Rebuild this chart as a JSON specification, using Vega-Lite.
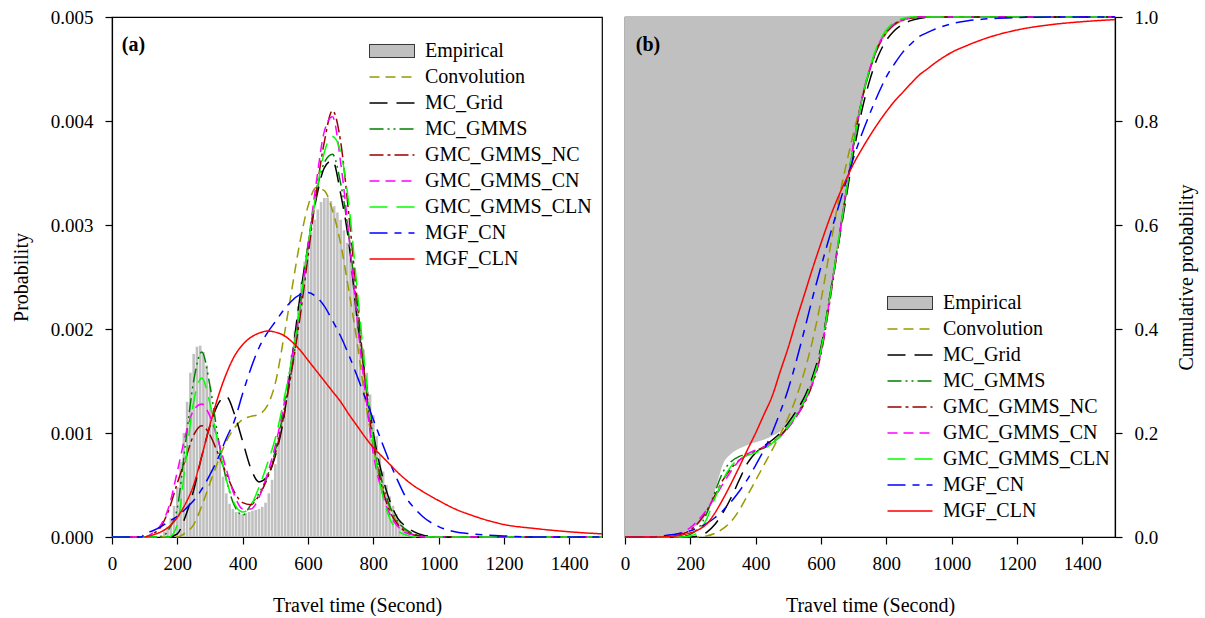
{
"$schema": "https://vega.github.io/schema/vega-lite/v6.json",
"padding": {"left": 10, "top": 7, "right": 5, "bottom": 0},
"spacing": 13,
"config": {
  "font": "Liberation Serif",
  "view": {"stroke": "#000000", "strokeWidth": 1.2},
  "axis": {"labelFont": "Liberation Serif", "titleFont": "Liberation Serif", "labelFontSize": 19, "titleFontSize": 20, "titleFontWeight": "normal", "labelColor": "#000000", "titleColor": "#000000", "domainColor": "#000000", "tickColor": "#000000", "grid": false, "tickSize": 7, "domainWidth": 1.2, "tickWidth": 1.2, "labelFlush": false},
  "legend": {"labelFont": "Liberation Serif", "labelFontSize": 20, "labelColor": "#000000", "labelLimit": 0}
},
"datasets": {
"hist": [
{"t":150,"p":0.00002},{"t":160,"p":0.00005},{"t":170,"p":0.0001},{"t":180,"p":0.00018},{"t":190,"p":0.0003},{"t":200,"p":0.00048},{"t":210,"p":0.00072},{"t":220,"p":0.001},{"t":230,"p":0.0013},{"t":240,"p":0.00158},{"t":250,"p":0.00176},{"t":260,"p":0.00183},{"t":270,"p":0.00184},{"t":280,"p":0.00178},{"t":290,"p":0.00165},{"t":300,"p":0.00145},{"t":310,"p":0.00122},{"t":320,"p":0.00098},{"t":330,"p":0.00078},{"t":340,"p":0.00058},{"t":350,"p":0.00042},{"t":360,"p":0.00032},{"t":370,"p":0.00027},{"t":380,"p":0.00024},{"t":390,"p":0.00022},{"t":400,"p":0.00022},{"t":410,"p":0.00023},{"t":420,"p":0.00024},{"t":430,"p":0.00025},{"t":440,"p":0.00026},{"t":450,"p":0.00027},{"t":460,"p":0.00029},{"t":470,"p":0.00033},{"t":480,"p":0.00042},{"t":490,"p":0.00055},{"t":500,"p":0.0007},{"t":510,"p":0.0009},{"t":520,"p":0.00112},{"t":530,"p":0.00135},{"t":540,"p":0.00155},{"t":550,"p":0.00175},{"t":560,"p":0.00198},{"t":570,"p":0.00222},{"t":580,"p":0.00245},{"t":590,"p":0.00265},{"t":600,"p":0.0028},{"t":610,"p":0.00293},{"t":620,"p":0.00305},{"t":630,"p":0.00315},{"t":640,"p":0.00322},{"t":650,"p":0.00326},{"t":660,"p":0.00326},{"t":670,"p":0.00323},{"t":680,"p":0.00318},{"t":690,"p":0.00312},{"t":700,"p":0.00305},{"t":710,"p":0.00295},{"t":720,"p":0.00283},{"t":730,"p":0.00268},{"t":740,"p":0.00248},{"t":750,"p":0.00226},{"t":760,"p":0.00202},{"t":770,"p":0.0018},{"t":780,"p":0.00158},{"t":790,"p":0.00137},{"t":800,"p":0.00117},{"t":810,"p":0.00097},{"t":820,"p":0.00079},{"t":830,"p":0.00063},{"t":840,"p":0.0005},{"t":850,"p":0.00039},{"t":860,"p":0.0003},{"t":870,"p":0.00022},{"t":880,"p":0.00016},{"t":890,"p":0.00011},{"t":900,"p":0.00008},{"t":910,"p":0.00005},{"t":920,"p":0.00003},{"t":930,"p":0.00002},{"t":940,"p":0.00001}
],
"pdf": [
{"t":0,"Convolution":0,"MC_Grid":0,"MC_GMMS":0,"GMC_GMMS_NC":0,"GMC_GMMS_CN":0,"GMC_GMMS_CLN":0,"MGF_CN":0},
{"t":90,"MGF_CN":0},
{"t":100,"GMC_GMMS_NC":0,"GMC_GMMS_CN":0,"MGF_CN":0.00003,"MGF_CLN":0},
{"t":125,"GMC_GMMS_NC":0.00003,"GMC_GMMS_CN":0.00004,"MGF_CN":0.00006,"MGF_CLN":0.00002},
{"t":150,"MC_GMMS":0,"GMC_GMMS_NC":0.0001,"GMC_GMMS_CN":0.00012,"MGF_CN":0.0001,"MGF_CLN":0.00005},
{"t":175,"MC_Grid":0,"MC_GMMS":0.00008,"GMC_GMMS_NC":0.00027,"GMC_GMMS_CN":0.0003,"GMC_GMMS_CLN":0,"MGF_CN":0.00015,"MGF_CLN":0.0001},
{"t":200,"Convolution":0,"MC_Grid":0.00003,"MC_GMMS":0.00028,"GMC_GMMS_NC":0.00052,"GMC_GMMS_CN":0.00063,"GMC_GMMS_CLN":0.00012,"MGF_CN":0.0002,"MGF_CLN":0.00019},
{"t":225,"Convolution":0.00004,"MC_Grid":0.0002,"MC_GMMS":0.0009,"GMC_GMMS_NC":0.00075,"GMC_GMMS_CN":0.00098,"GMC_GMMS_CLN":0.00072,"MGF_CN":0.00027,"MGF_CLN":0.00032},
{"t":250,"Convolution":0.00012,"MC_Grid":0.00045,"MC_GMMS":0.0015,"GMC_GMMS_NC":0.00098,"GMC_GMMS_CN":0.00122,"GMC_GMMS_CLN":0.0013,"MGF_CN":0.00035,"MGF_CLN":0.0005},
{"t":275,"Convolution":0.0003,"MC_Grid":0.00078,"MC_GMMS":0.00178,"GMC_GMMS_NC":0.00107,"GMC_GMMS_CN":0.00128,"GMC_GMMS_CLN":0.00153,"MGF_CN":0.00046,"MGF_CLN":0.00078},
{"t":300,"Convolution":0.00052,"MC_Grid":0.00107,"MC_GMMS":0.00145,"GMC_GMMS_NC":0.00098,"GMC_GMMS_CN":0.00116,"GMC_GMMS_CLN":0.00128,"MGF_CN":0.0006,"MGF_CLN":0.00108},
{"t":325,"Convolution":0.00073,"MC_Grid":0.00128,"MC_GMMS":0.00095,"GMC_GMMS_NC":0.0008,"GMC_GMMS_CN":0.00093,"GMC_GMMS_CLN":0.0009,"MGF_CN":0.00076,"MGF_CLN":0.00135},
{"t":350,"Convolution":0.00092,"MC_Grid":0.00135,"MC_GMMS":0.00055,"GMC_GMMS_NC":0.00061,"GMC_GMMS_CN":0.00065,"GMC_GMMS_CLN":0.00055,"MGF_CN":0.00095,"MGF_CLN":0.00157},
{"t":375,"Convolution":0.00105,"MC_Grid":0.00118,"MC_GMMS":0.0003,"GMC_GMMS_NC":0.00043,"GMC_GMMS_CN":0.0004,"GMC_GMMS_CLN":0.00032,"MGF_CN":0.00112,"MGF_CLN":0.00174},
{"t":400,"Convolution":0.00113,"MC_Grid":0.00092,"MC_GMMS":0.00021,"GMC_GMMS_NC":0.00033,"GMC_GMMS_CN":0.00027,"GMC_GMMS_CLN":0.00024,"MGF_CN":0.00138,"MGF_CLN":0.00185},
{"t":425,"Convolution":0.00116,"MC_Grid":0.00066,"MC_GMMS":0.00031,"GMC_GMMS_NC":0.00031,"GMC_GMMS_CN":0.00027,"GMC_GMMS_CLN":0.0003,"MGF_CN":0.00162,"MGF_CLN":0.00192},
{"t":450,"Convolution":0.00118,"MC_Grid":0.00053,"MC_GMMS":0.00042,"GMC_GMMS_NC":0.0004,"GMC_GMMS_CN":0.00038,"GMC_GMMS_CLN":0.00048,"MGF_CN":0.00182,"MGF_CLN":0.00196},
{"t":475,"Convolution":0.00126,"MC_Grid":0.00058,"MC_GMMS":0.00058,"GMC_GMMS_NC":0.00056,"GMC_GMMS_CN":0.0006,"GMC_GMMS_CLN":0.0007,"MGF_CN":0.00196,"MGF_CLN":0.00198},
{"t":500,"Convolution":0.00148,"MC_Grid":0.00078,"MC_GMMS":0.00083,"GMC_GMMS_NC":0.0008,"GMC_GMMS_CN":0.00088,"GMC_GMMS_CLN":0.00095,"MGF_CN":0.00207,"MGF_CLN":0.00197},
{"t":525,"Convolution":0.0019,"MC_Grid":0.00113,"MC_GMMS":0.0012,"GMC_GMMS_NC":0.00115,"GMC_GMMS_CN":0.00125,"GMC_GMMS_CLN":0.0013,"MGF_CN":0.00218,"MGF_CLN":0.00194},
{"t":550,"Convolution":0.00237,"MC_Grid":0.0017,"MC_GMMS":0.0016,"GMC_GMMS_NC":0.0016,"GMC_GMMS_CN":0.0017,"GMC_GMMS_CLN":0.0017,"MGF_CN":0.00227,"MGF_CLN":0.00188},
{"t":575,"Convolution":0.00283,"MC_Grid":0.0023,"MC_GMMS":0.0022,"GMC_GMMS_NC":0.0021,"GMC_GMMS_CN":0.0022,"GMC_GMMS_CLN":0.0022,"MGF_CN":0.00233,"MGF_CLN":0.0018},
{"t":600,"Convolution":0.00318,"MC_Grid":0.0028,"MC_GMMS":0.0028,"GMC_GMMS_NC":0.0027,"GMC_GMMS_CN":0.0028,"GMC_GMMS_CLN":0.0028,"MGF_CN":0.00235,"MGF_CLN":0.0017},
{"t":625,"Convolution":0.00336,"MC_Grid":0.00325,"MC_GMMS":0.0033,"GMC_GMMS_NC":0.0033,"GMC_GMMS_CN":0.0034,"GMC_GMMS_CLN":0.0033,"MGF_CN":0.00231,"MGF_CLN":0.0016},
{"t":650,"Convolution":0.00333,"MC_Grid":0.00355,"MC_GMMS":0.0036,"GMC_GMMS_NC":0.0038,"GMC_GMMS_CN":0.0039,"GMC_GMMS_CLN":0.0037,"MGF_CN":0.00222,"MGF_CLN":0.0015},
{"t":675,"Convolution":0.00314,"MC_Grid":0.00362,"MC_GMMS":0.00368,"GMC_GMMS_NC":0.0041,"GMC_GMMS_CN":0.00404,"GMC_GMMS_CLN":0.00385,"MGF_CN":0.00208,"MGF_CLN":0.0014},
{"t":700,"Convolution":0.00282,"MC_Grid":0.0033,"MC_GMMS":0.0034,"GMC_GMMS_NC":0.0038,"GMC_GMMS_CN":0.0036,"GMC_GMMS_CLN":0.0037,"MGF_CN":0.00193,"MGF_CLN":0.0013},
{"t":725,"Convolution":0.00237,"MC_Grid":0.00283,"MC_GMMS":0.0029,"GMC_GMMS_NC":0.0031,"GMC_GMMS_CN":0.0029,"GMC_GMMS_CLN":0.0032,"MGF_CN":0.00175,"MGF_CLN":0.00118},
{"t":750,"Convolution":0.00188,"MC_Grid":0.0021,"MC_GMMS":0.0022,"GMC_GMMS_NC":0.0023,"GMC_GMMS_CN":0.0021,"GMC_GMMS_CLN":0.0024,"MGF_CN":0.00155,"MGF_CLN":0.00107},
{"t":775,"Convolution":0.00132,"MC_Grid":0.00155,"MC_GMMS":0.0015,"GMC_GMMS_NC":0.0015,"GMC_GMMS_CN":0.0014,"GMC_GMMS_CLN":0.0016,"MGF_CN":0.00134,"MGF_CLN":0.00096},
{"t":800,"Convolution":0.00086,"MC_Grid":0.001,"MC_GMMS":0.00095,"GMC_GMMS_NC":0.0009,"GMC_GMMS_CN":0.0008,"GMC_GMMS_CLN":0.0009,"MGF_CN":0.00113,"MGF_CLN":0.00086},
{"t":825,"Convolution":0.0005,"MC_Grid":0.00062,"MC_GMMS":0.00055,"GMC_GMMS_NC":0.0005,"GMC_GMMS_CN":0.00045,"GMC_GMMS_CLN":0.00045,"MGF_CN":0.00092,"MGF_CLN":0.00078},
{"t":850,"Convolution":0.00028,"MC_Grid":0.00035,"MC_GMMS":0.0003,"GMC_GMMS_NC":0.00025,"GMC_GMMS_CN":0.00022,"GMC_GMMS_CLN":0.00018,"MGF_CN":0.00072,"MGF_CLN":0.0007},
{"t":875,"Convolution":0.00013,"MC_Grid":0.00018,"MC_GMMS":0.00015,"GMC_GMMS_NC":0.00012,"GMC_GMMS_CN":0.0001,"GMC_GMMS_CLN":0.00006,"MGF_CN":0.00054,"MGF_CLN":0.00062},
{"t":900,"Convolution":0.00006,"MC_Grid":0.0001,"MC_GMMS":0.00007,"GMC_GMMS_NC":0.00005,"GMC_GMMS_CN":0.00004,"GMC_GMMS_CLN":0.00002,"MGF_CN":0.00038,"MGF_CLN":0.00055},
{"t":925,"Convolution":0.00003,"MC_Grid":0.00005,"MC_GMMS":0.00003,"GMC_GMMS_NC":0.00002,"GMC_GMMS_CN":0.00002,"GMC_GMMS_CLN":0,"MGF_CN":0.00028,"MGF_CLN":0.00049},
{"t":950,"Convolution":0.00001,"MC_Grid":0.00002,"MC_GMMS":0.00001,"GMC_GMMS_NC":0.00001,"GMC_GMMS_CN":0,"GMC_GMMS_CLN":0,"MGF_CN":0.0002,"MGF_CLN":0.00044},
{"t":1000,"Convolution":0,"MC_Grid":0,"MC_GMMS":0,"GMC_GMMS_NC":0,"GMC_GMMS_CN":0,"GMC_GMMS_CLN":0,"MGF_CN":0.0001,"MGF_CLN":0.00035},
{"t":1050,"MGF_CN":0.00005,"MGF_CLN":0.00027},
{"t":1100,"MGF_CN":0.00003,"MGF_CLN":0.00021},
{"t":1200,"MGF_CN":0.00001,"MGF_CLN":0.00012},
{"t":1300,"MGF_CN":0,"MGF_CLN":0.00008},
{"t":1400,"MGF_CLN":0.00005},
{"t":1500,"Convolution":0,"MC_Grid":0,"MC_GMMS":0,"GMC_GMMS_NC":0,"GMC_GMMS_CN":0,"GMC_GMMS_CLN":0,"MGF_CN":0,"MGF_CLN":0.00003}
],
"cdf": [
{"t":0,"Empirical":0,"Convolution":0,"MC_Grid":0,"MC_GMMS":0,"GMC_GMMS_NC":0,"GMC_GMMS_CN":0,"GMC_GMMS_CLN":0,"MGF_CN":0,"MGF_CLN":0},
{"t":90,"MGF_CN":0},
{"t":100,"Empirical":0,"GMC_GMMS_NC":0,"GMC_GMMS_CN":0,"MGF_CN":0.001,"MGF_CLN":0},
{"t":125,"Empirical":0.001,"GMC_GMMS_NC":0.001,"GMC_GMMS_CN":0.001,"MGF_CN":0.003},
{"t":150,"Empirical":0.003,"MC_GMMS":0,"GMC_GMMS_NC":0.002,"GMC_GMMS_CN":0.004,"MGF_CN":0.005,"MGF_CLN":0.002},
{"t":175,"Empirical":0.008,"MC_GMMS":0.001,"GMC_GMMS_NC":0.006,"GMC_GMMS_CN":0.009,"GMC_GMMS_CLN":0,"MGF_CN":0.008,"MGF_CLN":0.004},
{"t":200,"Empirical":0.015,"MC_Grid":0,"MC_GMMS":0.005,"GMC_GMMS_NC":0.013,"GMC_GMMS_CN":0.018,"GMC_GMMS_CLN":0.002,"MGF_CN":0.012,"MGF_CLN":0.008},
{"t":225,"Empirical":0.025,"Convolution":0,"MC_Grid":0.002,"MC_GMMS":0.017,"GMC_GMMS_NC":0.028,"GMC_GMMS_CN":0.033,"GMC_GMMS_CLN":0.01,"MGF_CN":0.018,"MGF_CLN":0.014},
{"t":250,"Empirical":0.045,"Convolution":0.002,"MC_Grid":0.009,"MC_GMMS":0.045,"GMC_GMMS_NC":0.05,"GMC_GMMS_CN":0.052,"GMC_GMMS_CLN":0.035,"MGF_CN":0.026,"MGF_CLN":0.025},
{"t":275,"Empirical":0.088,"Convolution":0.007,"MC_Grid":0.024,"MC_GMMS":0.086,"GMC_GMMS_NC":0.08,"GMC_GMMS_CN":0.076,"GMC_GMMS_CLN":0.074,"MGF_CN":0.037,"MGF_CLN":0.046},
{"t":300,"Empirical":0.14,"Convolution":0.016,"MC_Grid":0.047,"MC_GMMS":0.125,"GMC_GMMS_NC":0.11,"GMC_GMMS_CN":0.102,"GMC_GMMS_CLN":0.11,"MGF_CN":0.051,"MGF_CLN":0.073},
{"t":325,"Empirical":0.16,"Convolution":0.03,"MC_Grid":0.076,"MC_GMMS":0.145,"GMC_GMMS_NC":0.132,"GMC_GMMS_CN":0.127,"GMC_GMMS_CLN":0.136,"MGF_CN":0.068,"MGF_CLN":0.103},
{"t":350,"Empirical":0.17,"Convolution":0.052,"MC_Grid":0.11,"MC_GMMS":0.155,"GMC_GMMS_NC":0.148,"GMC_GMMS_CN":0.147,"GMC_GMMS_CLN":0.15,"MGF_CN":0.088,"MGF_CLN":0.135},
{"t":375,"Empirical":0.177,"Convolution":0.08,"MC_Grid":0.142,"MC_GMMS":0.16,"GMC_GMMS_NC":0.158,"GMC_GMMS_CN":0.16,"GMC_GMMS_CLN":0.157,"MGF_CN":0.111,"MGF_CLN":0.168},
{"t":400,"Empirical":0.182,"Convolution":0.109,"MC_Grid":0.162,"MC_GMMS":0.165,"GMC_GMMS_NC":0.166,"GMC_GMMS_CN":0.167,"GMC_GMMS_CLN":0.162,"MGF_CN":0.138,"MGF_CLN":0.2},
{"t":425,"Empirical":0.187,"Convolution":0.138,"MC_Grid":0.175,"MC_GMMS":0.171,"GMC_GMMS_NC":0.173,"GMC_GMMS_CN":0.173,"GMC_GMMS_CLN":0.169,"MGF_CN":0.167,"MGF_CLN":0.235},
{"t":450,"Empirical":0.194,"Convolution":0.167,"MC_Grid":0.186,"MC_GMMS":0.18,"GMC_GMMS_NC":0.182,"GMC_GMMS_CN":0.181,"GMC_GMMS_CLN":0.18,"MGF_CN":0.2,"MGF_CLN":0.27},
{"t":475,"Empirical":0.203,"Convolution":0.197,"MC_Grid":0.2,"MC_GMMS":0.194,"GMC_GMMS_NC":0.194,"GMC_GMMS_CN":0.193,"GMC_GMMS_CLN":0.194,"MGF_CN":0.24,"MGF_CLN":0.318},
{"t":500,"Empirical":0.216,"Convolution":0.23,"MC_Grid":0.22,"MC_GMMS":0.214,"GMC_GMMS_NC":0.212,"GMC_GMMS_CN":0.21,"GMC_GMMS_CLN":0.213,"MGF_CN":0.285,"MGF_CLN":0.365},
{"t":525,"Empirical":0.234,"Convolution":0.27,"MC_Grid":0.243,"MC_GMMS":0.235,"GMC_GMMS_NC":0.232,"GMC_GMMS_CN":0.232,"GMC_GMMS_CLN":0.236,"MGF_CN":0.34,"MGF_CLN":0.418},
{"t":550,"Empirical":0.26,"Convolution":0.32,"MC_Grid":0.27,"MC_GMMS":0.262,"GMC_GMMS_NC":0.258,"GMC_GMMS_CN":0.26,"GMC_GMMS_CLN":0.264,"MGF_CN":0.4,"MGF_CLN":0.468},
{"t":575,"Empirical":0.298,"Convolution":0.38,"MC_Grid":0.31,"MC_GMMS":0.302,"GMC_GMMS_NC":0.296,"GMC_GMMS_CN":0.298,"GMC_GMMS_CLN":0.303,"MGF_CN":0.462,"MGF_CLN":0.518},
{"t":600,"Empirical":0.355,"Convolution":0.455,"MC_Grid":0.365,"MC_GMMS":0.36,"GMC_GMMS_NC":0.352,"GMC_GMMS_CN":0.355,"GMC_GMMS_CLN":0.36,"MGF_CN":0.52,"MGF_CLN":0.565},
{"t":625,"Empirical":0.45,"Convolution":0.545,"MC_Grid":0.455,"MC_GMMS":0.455,"GMC_GMMS_NC":0.445,"GMC_GMMS_CN":0.45,"GMC_GMMS_CLN":0.453,"MGF_CN":0.575,"MGF_CLN":0.61},
{"t":650,"Empirical":0.553,"Convolution":0.635,"MC_Grid":0.55,"MC_GMMS":0.555,"GMC_GMMS_NC":0.55,"GMC_GMMS_CN":0.555,"GMC_GMMS_CLN":0.555,"MGF_CN":0.628,"MGF_CLN":0.65},
{"t":675,"Empirical":0.652,"Convolution":0.71,"MC_Grid":0.645,"MC_GMMS":0.655,"GMC_GMMS_NC":0.655,"GMC_GMMS_CN":0.658,"GMC_GMMS_CLN":0.655,"MGF_CN":0.68,"MGF_CLN":0.685},
{"t":700,"Empirical":0.75,"Convolution":0.778,"MC_Grid":0.74,"MC_GMMS":0.755,"GMC_GMMS_NC":0.755,"GMC_GMMS_CN":0.758,"GMC_GMMS_CLN":0.755,"MGF_CN":0.73,"MGF_CLN":0.718},
{"t":725,"Empirical":0.832,"Convolution":0.84,"MC_Grid":0.82,"MC_GMMS":0.84,"GMC_GMMS_NC":0.84,"GMC_GMMS_CN":0.843,"GMC_GMMS_CLN":0.84,"MGF_CN":0.775,"MGF_CLN":0.746},
{"t":750,"Empirical":0.893,"Convolution":0.9,"MC_Grid":0.88,"MC_GMMS":0.9,"GMC_GMMS_NC":0.9,"GMC_GMMS_CN":0.902,"GMC_GMMS_CLN":0.903,"MGF_CN":0.815,"MGF_CLN":0.772},
{"t":775,"Empirical":0.938,"Convolution":0.943,"MC_Grid":0.925,"MC_GMMS":0.945,"GMC_GMMS_NC":0.943,"GMC_GMMS_CN":0.945,"GMC_GMMS_CLN":0.948,"MGF_CN":0.852,"MGF_CLN":0.796},
{"t":800,"Empirical":0.966,"Convolution":0.97,"MC_Grid":0.955,"MC_GMMS":0.972,"GMC_GMMS_NC":0.97,"GMC_GMMS_CN":0.972,"GMC_GMMS_CLN":0.975,"MGF_CN":0.885,"MGF_CLN":0.818},
{"t":825,"Empirical":0.982,"Convolution":0.985,"MC_Grid":0.974,"MC_GMMS":0.987,"GMC_GMMS_NC":0.986,"GMC_GMMS_CN":0.987,"GMC_GMMS_CLN":0.99,"MGF_CN":0.91,"MGF_CLN":0.838},
{"t":850,"Empirical":0.991,"Convolution":0.994,"MC_Grid":0.986,"MC_GMMS":0.995,"GMC_GMMS_NC":0.994,"GMC_GMMS_CN":0.995,"GMC_GMMS_CLN":0.997,"MGF_CN":0.932,"MGF_CLN":0.855},
{"t":875,"Empirical":0.996,"Convolution":0.998,"MC_Grid":0.993,"MC_GMMS":0.998,"GMC_GMMS_NC":0.998,"GMC_GMMS_CN":0.998,"GMC_GMMS_CLN":1,"MGF_CN":0.948,"MGF_CLN":0.872},
{"t":900,"Empirical":0.999,"Convolution":1,"MC_Grid":0.997,"MC_GMMS":1,"GMC_GMMS_NC":1,"GMC_GMMS_CN":1,"MGF_CN":0.962,"MGF_CLN":0.888},
{"t":925,"Empirical":1,"MGF_CN":0.97,"MGF_CLN":0.9},
{"t":950,"MC_Grid":1,"MGF_CN":0.977,"MGF_CLN":0.912},
{"t":1000,"MGF_CN":0.987,"MGF_CLN":0.932},
{"t":1050,"MGF_CN":0.993,"MGF_CLN":0.946},
{"t":1100,"MGF_CN":0.996,"MGF_CLN":0.958},
{"t":1200,"MGF_CN":0.999,"MGF_CLN":0.975},
{"t":1300,"MGF_CN":1,"MGF_CLN":0.985},
{"t":1400,"MGF_CLN":0.991},
{"t":1500,"Empirical":1,"Convolution":1,"MC_Grid":1,"MC_GMMS":1,"GMC_GMMS_NC":1,"GMC_GMMS_CN":1,"GMC_GMMS_CLN":1,"MGF_CN":1,"MGF_CLN":0.995}
]
},
"resolve": {"scale": {"x": "independent", "y": "independent", "color": "independent", "strokeDash": "independent"}, "legend": {"color": "independent", "strokeDash": "independent"}},
"hconcat": [
{
  "width": 490, "height": 520,
  "layer": [
    {"data": {"name": "hist"},
     "mark": {"type": "bar", "color": "#c0c0c0", "width": 2.6, "orient": "vertical"},
     "encoding": {
       "x": {"field": "t", "type": "quantitative", "title": "Travel time (Second)", "scale": {"domain": [0, 1500], "nice": false, "zero": false, "padding": 0},
          "axis": {"values": [0,200,400,600,800,1000,1200,1400], "format": "d", "labelPadding": 10, "titlePadding": 22}},
       "y": {"field": "p", "type": "quantitative", "title": "Probability", "scale": {"domain": [0, 0.005], "nice": false},
       "axis": {"values": [0,0.001,0.002,0.003,0.004,0.005], "format": ".3f", "labelPadding": 12, "titlePadding": 19}}}},
    {"data": {"name": "pdf"},
     "transform": [{"fold": ["Convolution","MC_Grid","MC_GMMS","GMC_GMMS_NC","GMC_GMMS_CN","GMC_GMMS_CLN","MGF_CN","MGF_CLN"], "as": ["series", "value"]}, {"filter": "isValid(datum.value)"}],
     "mark": {"type": "line", "interpolate": "monotone", "strokeWidth": 1.5},
     "encoding": {
       "x": {"field": "t", "type": "quantitative", "title": "Travel time (Second)"},
       "y": {"field": "value", "type": "quantitative", "title": "Probability"},
       "color": {"field": "series", "type": "nominal",
         "scale": {"domain": ["Empirical","Convolution","MC_Grid","MC_GMMS","GMC_GMMS_NC","GMC_GMMS_CN","GMC_GMMS_CLN","MGF_CN","MGF_CLN"],
                   "range": ["#000000","#999900","#000000","#008000","#990000","#ff00ff","#00ff00","#0000ff","#ff0000"]},
         "legend": {"orient": "none", "legendX": 270, "legendY": 24, "title": null, "symbolType": "stroke", "symbolSize": 2025, "symbolStrokeWidth": 1.5, "rowPadding": 6, "labelOffset": 23,
           "encode": {"symbols": {"update": {
             "shape": {"signal": "datum.value === 'Empirical' ? 'M-1,-0.29L1,-0.29L1,0.29L-1,0.29Z' : 'stroke'"},
             "fill": {"signal": "datum.value === 'Empirical' ? '#c0c0c0' : 'transparent'"},
             "strokeWidth": {"signal": "datum.value === 'Empirical' ? 1 : 1.5"},
             "strokeDash": {"signal": "datum.value==='Convolution'?[10,6]:datum.value==='MC_Grid'?[18,9]:datum.value==='MC_GMMS'?[14,4,2,4,2,4]:datum.value==='GMC_GMMS_NC'?[14,4,3,4]:datum.value==='GMC_GMMS_CN'?[10,6]:datum.value==='GMC_GMMS_CLN'?[18,9]:datum.value==='MGF_CN'?[18,7,7,7]:[1,0]"}
           }}}}},
       "strokeDash": {"field": "series", "type": "nominal", "legend": null,
         "scale": {"domain": ["Convolution","MC_Grid","MC_GMMS","GMC_GMMS_NC","GMC_GMMS_CN","GMC_GMMS_CLN","MGF_CN","MGF_CLN"],
                   "range": [[10,6],[18,9],[14,4,2,4,2,4],[14,4,3,4],[10,6],[18,9],[18,7,7,7],[1,0]]}}
     }},
    {"data": {"values": [{"lab": "(a)"}]},
     "mark": {"type": "text", "font": "Liberation Serif", "fontSize": 20, "fontWeight": "bold", "align": "left", "baseline": "middle", "color": "#000000"},
     "encoding": {"x": {"datum": 30, "type": "quantitative"}, "y": {"datum": 0.00473, "type": "quantitative"}, "text": {"field": "lab", "type": "nominal"}}}
  ]
},
{
  "width": 490, "height": 520,
  "layer": [
    {"data": {"name": "cdf"},
     "transform": [{"filter": "isValid(datum.Empirical)"}],
     "mark": {"type": "area", "color": "#c0c0c0", "interpolate": "monotone"},
     "encoding": {
       "x": {"field": "t", "type": "quantitative", "title": "Travel time (Second)", "scale": {"domain": [0, 1500], "nice": false, "zero": false, "padding": 0},
          "axis": {"values": [0,200,400,600,800,1000,1200,1400], "format": "d", "labelPadding": 10, "titlePadding": 22}},
       "y": {"field": "Empirical", "type": "quantitative", "title": "Cumulative probability", "scale": {"domain": [0, 1], "nice": false},
       "axis": {"orient": "right", "values": [0,0.2,0.4,0.6,0.8,1.0], "format": ".1f", "labelPadding": 12, "titlePadding": 19, "titleAngle": 270, "titleBaseline": "top"}},
       "y2": {"datum": 1}}},
    {"data": {"name": "cdf"},
     "transform": [{"fold": ["Convolution","MC_Grid","MC_GMMS","GMC_GMMS_NC","GMC_GMMS_CN","GMC_GMMS_CLN","MGF_CN","MGF_CLN"], "as": ["series", "value"]}, {"filter": "isValid(datum.value)"}],
     "mark": {"type": "line", "interpolate": "monotone", "strokeWidth": 1.5},
     "encoding": {
       "x": {"field": "t", "type": "quantitative", "title": "Travel time (Second)"},
       "y": {"field": "value", "type": "quantitative", "title": "Cumulative probability"},
       "color": {"field": "series", "type": "nominal",
         "scale": {"domain": ["Empirical","Convolution","MC_Grid","MC_GMMS","GMC_GMMS_NC","GMC_GMMS_CN","GMC_GMMS_CLN","MGF_CN","MGF_CLN"],
                   "range": ["#000000","#999900","#000000","#008000","#990000","#ff00ff","#00ff00","#0000ff","#ff0000"]},
         "legend": {"orient": "none", "legendX": 275, "legendY": 276, "title": null, "symbolType": "stroke", "symbolSize": 2025, "symbolStrokeWidth": 1.5, "rowPadding": 6, "labelOffset": 23,
           "encode": {"symbols": {"update": {
             "shape": {"signal": "datum.value === 'Empirical' ? 'M-1,-0.29L1,-0.29L1,0.29L-1,0.29Z' : 'stroke'"},
             "fill": {"signal": "datum.value === 'Empirical' ? '#c0c0c0' : 'transparent'"},
             "strokeWidth": {"signal": "datum.value === 'Empirical' ? 1 : 1.5"},
             "strokeDash": {"signal": "datum.value==='Convolution'?[10,6]:datum.value==='MC_Grid'?[18,9]:datum.value==='MC_GMMS'?[14,4,2,4,2,4]:datum.value==='GMC_GMMS_NC'?[14,4,3,4]:datum.value==='GMC_GMMS_CN'?[10,6]:datum.value==='GMC_GMMS_CLN'?[18,9]:datum.value==='MGF_CN'?[18,7,7,7]:[1,0]"}
           }}}}},
       "strokeDash": {"field": "series", "type": "nominal", "legend": null,
         "scale": {"domain": ["Convolution","MC_Grid","MC_GMMS","GMC_GMMS_NC","GMC_GMMS_CN","GMC_GMMS_CLN","MGF_CN","MGF_CLN"],
                   "range": [[10,6],[18,9],[14,4,2,4,2,4],[14,4,3,4],[10,6],[18,9],[18,7,7,7],[1,0]]}}
     }},
    {"data": {"values": [{"lab": "(b)"}]},
     "mark": {"type": "text", "font": "Liberation Serif", "fontSize": 20, "fontWeight": "bold", "align": "left", "baseline": "middle", "color": "#000000"},
     "encoding": {"x": {"datum": 33, "type": "quantitative"}, "y": {"datum": 0.946, "type": "quantitative"}, "text": {"field": "lab", "type": "nominal"}}}
  ]
}
]
}
